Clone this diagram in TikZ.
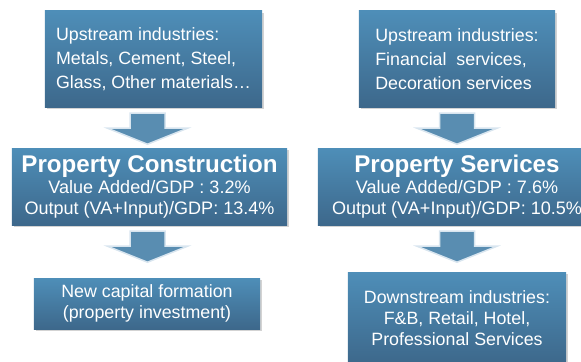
\documentclass[tikz,border=0pt]{standalone}
\usepackage{fontspec}
\setmainfont{Liberation Sans}
\usetikzlibrary{calc}
\usetikzlibrary{shadows}

\definecolor{boxtop}{RGB}{78,142,184}
\definecolor{boxbot}{RGB}{61,104,139}
\definecolor{flowfill}{RGB}{89,141,177}
\definecolor{flowrim}{RGB}{216,229,239}

% fat downward arrow hanging below a node, centred on a column
\newcommand{\blockdown}[2]{%
    \filldraw[flow] ($(#1 |- #2.south)+(-17.5,6)$) -- ++(35,0) -- ++(0,15)
        -- ++(22.5,0) -- ($(#1 |- #2.south)+(0,37)$) -- ++(-40,-16)
        -- ++(22.5,0) -- cycle;
}

\begin{document}
\begin{tikzpicture}[x=0.03cm, y=-0.03cm,
    sector/.style={top color=boxtop, bottom color=boxbot, text=white,
        drop shadow={shadow xshift=0.07cm, shadow yshift=-0.07cm, opacity=0.35},
        inner sep=0pt, font=\fontsize{15.2}{20.5}\selectfont},
    flow/.style={fill=flowfill, draw=flowrim, line width=0.045cm, line join=miter}]

    \useasboundingbox (0,0) rectangle (581,362);

    % column axes for the arrows
    \coordinate (colL) at (147.5,0);
    \coordinate (colR) at (457,0);

    % ---------------- Left: construction chain ----------------
    \node[sector, align=left, minimum width=6.51cm, minimum height=2.88cm] (up1) at (153.5,59)
        {Upstream industries:\\Metals, Cement, Steel,\\Glass, Other materials\dots};

    \node[sector, align=center, minimum width=8.25cm, minimum height=2.31cm,
          font=\fontsize{15.4}{17.8}\selectfont] (pc) at (149.5,186.5)
        {{\fontsize{20.6}{21}\selectfont\bfseries Property Construction}\\
         Value Added/GDP : 3.2\%\\Output (VA+Input)/GDP: 13.4\%};

    \node[sector, align=center, minimum width=6.78cm, minimum height=1.53cm,
          font=\fontsize{15.2}{17.6}\selectfont] (inv) at (147,303.5)
        {New capital formation\\(property investment)};

    \blockdown{colL}{up1}
    \blockdown{colL}{pc}

    % ---------------- Right: services chain ----------------
    \node[sector, align=left, minimum width=5.88cm, minimum height=2.88cm] (up2) at (457,59)
        {Upstream industries:\\Financial\ \ services,\\Decoration services};

    \node[sector, align=center, minimum width=8.34cm, minimum height=2.31cm,
          font=\fontsize{15.4}{17.8}\selectfont] (ps) at (457,186.5)
        {{\fontsize{20.6}{21}\selectfont\bfseries Property Services}\\
         Value Added/GDP : 7.6\%\\Output (VA+Input)/GDP: 10.5\%};

    \node[sector, align=center, minimum width=6.54cm, minimum height=2.76cm,
          font=\fontsize{15.2}{17.9}\selectfont] (down) at (457,318)
        {Downstream industries:\\F\&B, Retail, Hotel,\\Professional Services};

    \blockdown{colR}{up2}
    \blockdown{colR}{ps}
\end{tikzpicture}
\end{document}
